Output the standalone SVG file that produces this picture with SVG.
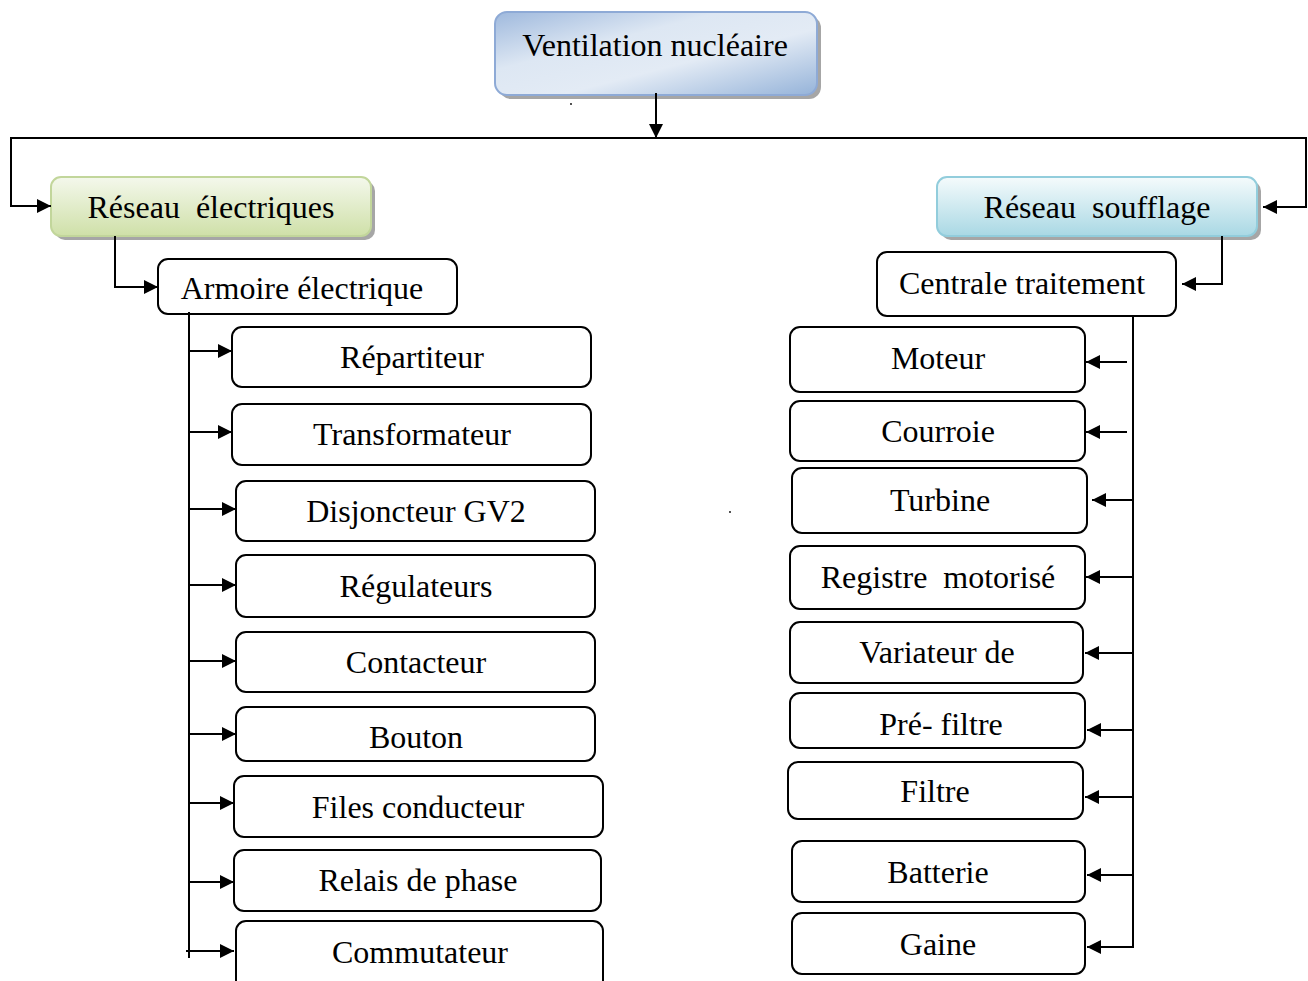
<svg xmlns="http://www.w3.org/2000/svg" width="1308" height="981" viewBox="0 0 1308 981">
  <defs>
    <linearGradient id="gBlue" x1="0" y1="0" x2="1" y2="1">
      <stop offset="0" stop-color="#9fb9dd"/>
      <stop offset="0.35" stop-color="#dde7f3"/>
      <stop offset="0.6" stop-color="#e3ebf5"/>
      <stop offset="1" stop-color="#95b3d9"/>
    </linearGradient>
    <linearGradient id="gGreen" x1="0" y1="0" x2="0" y2="1">
      <stop offset="0" stop-color="#f4f8ec"/>
      <stop offset="1" stop-color="#cfe0a8"/>
    </linearGradient>
    <linearGradient id="gCyan" x1="0" y1="0" x2="0" y2="1">
      <stop offset="0" stop-color="#f5fbfc"/>
      <stop offset="1" stop-color="#a9d8e4"/>
    </linearGradient>
    <marker id="arr" viewBox="0 0 14 14" refX="14" refY="7" markerWidth="14" markerHeight="14" markerUnits="userSpaceOnUse" orient="auto">
      <path d="M0,0 L14,7 L0,14 Z" fill="#000"/>
    </marker>
  </defs>
  <style>
    text { font-family: "Liberation Serif", "Times New Roman", serif; font-size: 32px; fill: #000; text-anchor: middle; }
    .box { fill: #fff; stroke: #000; stroke-width: 2; }
    .shadow { fill: #a6a6a6; }
    .link { fill: none; stroke: #000; stroke-width: 2; }
    .arrow { fill: none; stroke: #000; stroke-width: 2; marker-end: url(#arr); }
  </style>

  <rect width="1308" height="981" fill="#fff"/>

  <!-- root -->
  <g id="ventilation">
    <rect class="shadow" x="499" y="16" width="322" height="83" rx="12"/>
    <rect x="495" y="12" width="322" height="83" rx="12" fill="url(#gBlue)" stroke="#8eaad6" stroke-width="2"/>
    <text x="655" y="56">Ventilation nucléaire</text>
  </g>

  <!-- level 1 -->
  <g id="reseau-electriques">
    <rect class="shadow" x="55" y="181" width="320" height="59" rx="10"/>
    <rect x="51" y="177" width="320" height="59" rx="10" fill="url(#gGreen)" stroke="#c2d69b" stroke-width="2"/>
    <text x="211" y="218" xml:space="preserve">Réseau  électriques</text>
  </g>
  <g id="reseau-soufflage">
    <rect class="shadow" x="941" y="181" width="320" height="59" rx="10"/>
    <rect x="937" y="177" width="320" height="59" rx="10" fill="url(#gCyan)" stroke="#92cddc" stroke-width="2"/>
    <text x="1097" y="218" xml:space="preserve">Réseau  soufflage</text>
  </g>

  <!-- level 2 -->
  <g id="armoire">
    <rect class="box" x="158" y="259" width="299" height="55" rx="10"/>
    <text x="302" y="299">Armoire électrique</text>
  </g>
  <g id="centrale">
    <rect class="box" x="877" y="252" width="299" height="64" rx="10"/>
    <text x="1022" y="294">Centrale traitement</text>
  </g>

  <!-- electrical components -->
  <g id="repartiteur"><rect class="box" x="232" y="327" width="359" height="60" rx="10"/><text x="412" y="368">Répartiteur</text></g>
  <g id="transformateur"><rect class="box" x="232" y="404" width="359" height="61" rx="10"/><text x="412" y="445">Transformateur</text></g>
  <g id="disjoncteur"><rect class="box" x="236" y="481" width="359" height="60" rx="10"/><text x="416" y="522">Disjoncteur GV2</text></g>
  <g id="regulateurs"><rect class="box" x="236" y="555" width="359" height="62" rx="10"/><text x="416" y="597">Régulateurs</text></g>
  <g id="contacteur"><rect class="box" x="236" y="632" width="359" height="60" rx="10"/><text x="416" y="673">Contacteur</text></g>
  <g id="bouton"><rect class="box" x="236" y="707" width="359" height="54" rx="10"/><text x="416" y="748">Bouton</text></g>
  <g id="files"><rect class="box" x="234" y="776" width="369" height="61" rx="10"/><text x="418" y="818">Files conducteur</text></g>
  <g id="relais"><rect class="box" x="234" y="850" width="367" height="61" rx="10"/><text x="418" y="891">Relais de phase</text></g>
  <g id="commutateur"><rect class="box" x="236" y="921" width="367" height="70" rx="10"/><text x="420" y="963">Commutateur</text></g>

  <!-- air handling components -->
  <g id="moteur"><rect class="box" x="790" y="327" width="295" height="65" rx="10"/><text x="938" y="369">Moteur</text></g>
  <g id="courroie"><rect class="box" x="790" y="401" width="295" height="60" rx="10"/><text x="938" y="442">Courroie</text></g>
  <g id="turbine"><rect class="box" x="792" y="468" width="295" height="65" rx="10"/><text x="940" y="511">Turbine</text></g>
  <g id="registre"><rect class="box" x="790" y="546" width="295" height="63" rx="10"/><text x="938" y="588" xml:space="preserve">Registre  motorisé</text></g>
  <g id="variateur"><rect class="box" x="790" y="622" width="293" height="61" rx="10"/><text x="937" y="663">Variateur de</text></g>
  <g id="prefiltre"><rect class="box" x="790" y="693" width="295" height="55" rx="10"/><text x="941" y="735">Pré- filtre</text></g>
  <g id="filtre"><rect class="box" x="788" y="762" width="295" height="57" rx="10"/><text x="935" y="802">Filtre</text></g>
  <g id="batterie"><rect class="box" x="792" y="841" width="293" height="61" rx="10"/><text x="938" y="883">Batterie</text></g>
  <g id="gaine"><rect class="box" x="792" y="913" width="293" height="61" rx="10"/><text x="938" y="955">Gaine</text></g>

  <!-- connectors -->
  <g id="connectors">
    <line class="arrow" x1="656" y1="93" x2="656" y2="138"/>
    <line class="link" x1="10" y1="138" x2="1307" y2="138"/>
    <polyline class="arrow" points="11,138 11,206 51,206"/>
    <polyline class="arrow" points="1306,138 1306,207 1263,207"/>

    <polyline class="arrow" points="115,236 115,287 158,287"/>
    <polyline class="arrow" points="1222,236 1222,284 1182,284"/>

    <!-- left bus -->
    <line class="link" x1="189" y1="312" x2="189" y2="958"/>
    <line class="arrow" x1="189" y1="351" x2="232" y2="351"/>
    <line class="arrow" x1="189" y1="432" x2="232" y2="432"/>
    <line class="arrow" x1="189" y1="509" x2="236" y2="509"/>
    <line class="arrow" x1="189" y1="585" x2="236" y2="585"/>
    <line class="arrow" x1="189" y1="661" x2="236" y2="661"/>
    <line class="arrow" x1="189" y1="734" x2="236" y2="734"/>
    <line class="arrow" x1="189" y1="803" x2="234" y2="803"/>
    <line class="arrow" x1="189" y1="882" x2="234" y2="882"/>
    <line class="arrow" x1="186" y1="951" x2="234" y2="951"/>

    <!-- right bus -->
    <line class="link" x1="1133" y1="316" x2="1133" y2="948"/>
    <line class="arrow" x1="1127" y1="362" x2="1086" y2="362"/>
    <line class="arrow" x1="1127" y1="432" x2="1086" y2="432"/>
    <line class="arrow" x1="1133" y1="500" x2="1092" y2="500"/>
    <line class="arrow" x1="1133" y1="577" x2="1086" y2="577"/>
    <line class="arrow" x1="1133" y1="653" x2="1085" y2="653"/>
    <line class="arrow" x1="1133" y1="730" x2="1087" y2="730"/>
    <line class="arrow" x1="1133" y1="797" x2="1085" y2="797"/>
    <line class="arrow" x1="1133" y1="875" x2="1087" y2="875"/>
    <line class="arrow" x1="1134" y1="947" x2="1087" y2="947"/>
  </g>

  <!-- stray marks -->
  <circle cx="571" cy="104" r="0.9" fill="#000"/>
  <circle cx="730" cy="512" r="0.9" fill="#000"/>
</svg>
